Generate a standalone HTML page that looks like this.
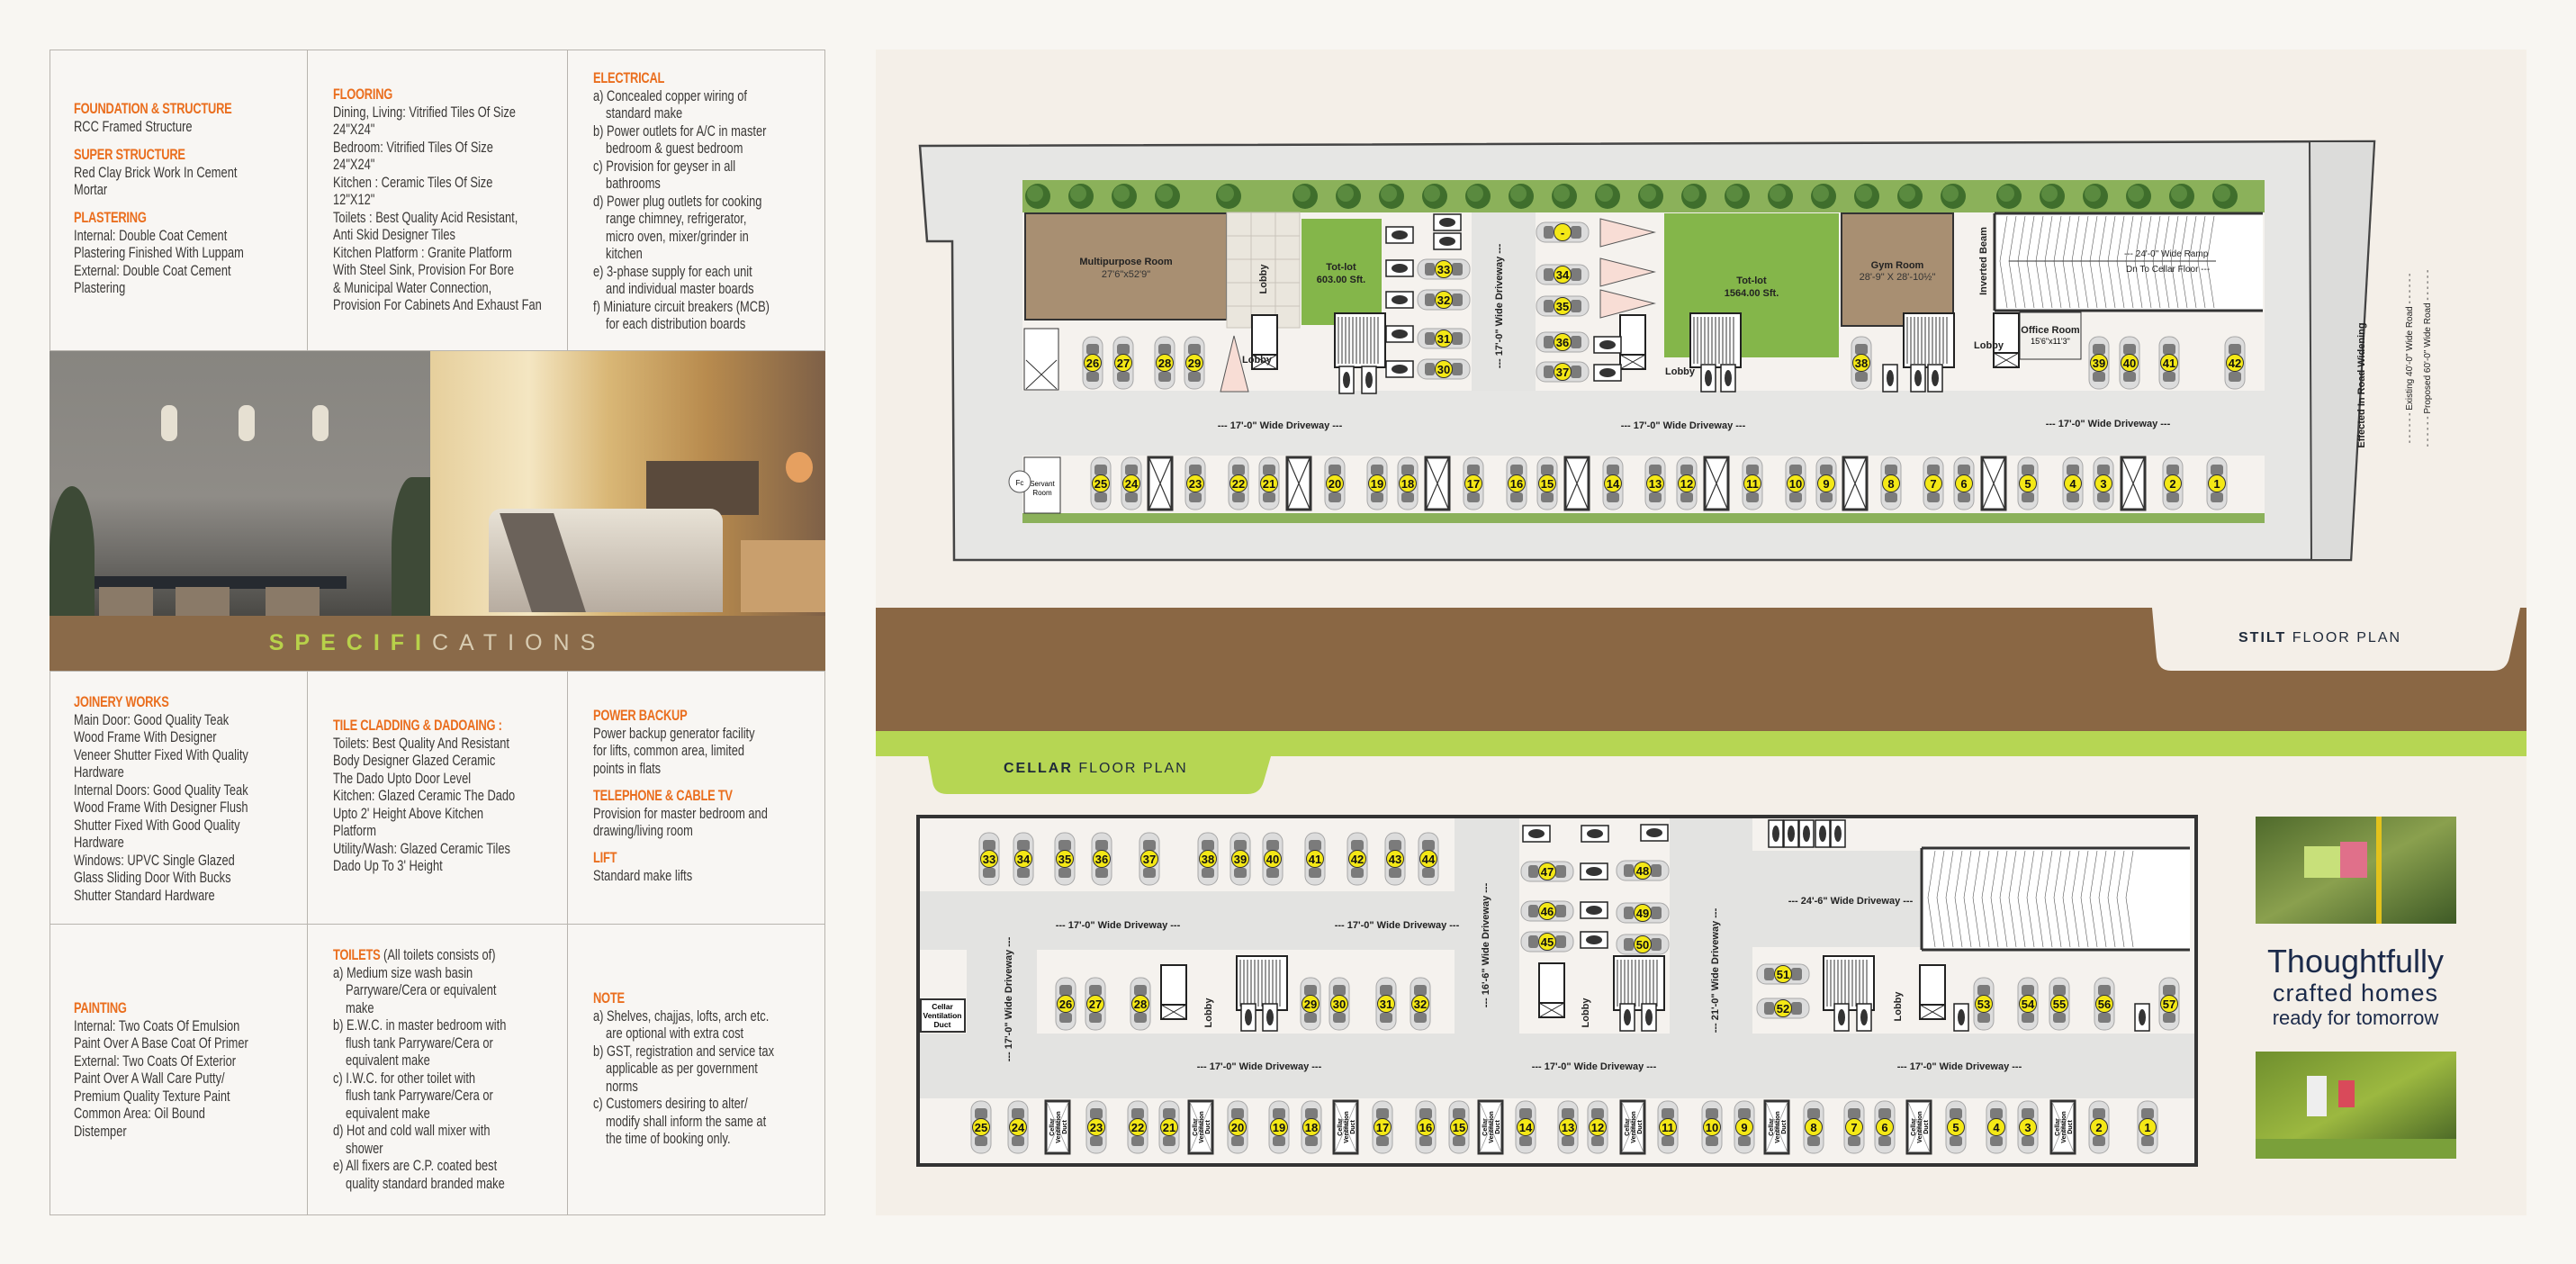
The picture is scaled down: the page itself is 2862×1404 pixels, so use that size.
<!DOCTYPE html>
<html><head><meta charset="utf-8"><style>
html,body{margin:0;padding:0}
body{width:2862px;height:1404px;position:relative;background:#f8f6f2;font-family:"Liberation Sans",sans-serif;overflow:hidden}
.abs{position:absolute}
.cell{position:absolute;background:#f8f6f3;border:1.5px solid #b8b4ae;box-sizing:border-box}
.sec{position:absolute;transform:scaleX(.78);transform-origin:0 0;font-size:16.5px;line-height:19.5px;color:#3a3836;white-space:nowrap}
.sec b{color:#ea6e1e;font-weight:bold;letter-spacing:-.3px}
.sec .i{padding-left:18px}
</style></head><body>
<div class="abs" style="left:55px;top:55px;width:862px;height:1295px;background:#f7f5f2;border:1.5px solid #b8b4ae;box-sizing:border-box"></div>
<div class="cell" style="left:55px;top:55px;width:287px;height:335px"></div>
<div class="cell" style="left:341px;top:55px;width:290px;height:335px"></div>
<div class="cell" style="left:630px;top:55px;width:287px;height:335px"></div>
<div class="cell" style="left:55px;top:745px;width:287px;height:282px"></div>
<div class="cell" style="left:341px;top:745px;width:290px;height:282px"></div>
<div class="cell" style="left:630px;top:745px;width:287px;height:282px"></div>
<div class="cell" style="left:55px;top:1026px;width:287px;height:324px"></div>
<div class="cell" style="left:341px;top:1026px;width:290px;height:324px"></div>
<div class="cell" style="left:630px;top:1026px;width:287px;height:324px"></div>

<div class="abs" style="left:55px;top:390px;width:423px;height:294px;background:linear-gradient(180deg,#878580 0%,#8f8c87 55%,#6d6b67 78%,#4a4945 100%);overflow:hidden">
 <div class="abs" style="left:50px;top:250px;width:280px;height:14px;background:#262a30"></div>
 <div class="abs" style="left:55px;top:262px;width:60px;height:100px;background:#8a7a68"></div>
 <div class="abs" style="left:140px;top:262px;width:60px;height:100px;background:#8a7a68"></div>
 <div class="abs" style="left:240px;top:262px;width:60px;height:100px;background:#8a7a68"></div>
 <div class="abs" style="left:0;top:150px;width:50px;height:150px;background:#3d4a36;border-radius:50% 50% 0 0"></div>
 <div class="abs" style="left:380px;top:140px;width:45px;height:160px;background:#3e4a37;border-radius:50% 0 0 0"></div>
 <div class="abs" style="left:124px;top:60px;width:18px;height:40px;background:#e6e0d2;border-radius:8px"></div>
 <div class="abs" style="left:210px;top:60px;width:18px;height:40px;background:#e6e0d2;border-radius:8px"></div>
 <div class="abs" style="left:292px;top:60px;width:18px;height:40px;background:#e6e0d2;border-radius:8px"></div>
</div>
<div class="abs" style="left:478px;top:390px;width:439px;height:294px;background:linear-gradient(90deg,#e6cf9c 0%,#f4e6c2 25%,#d9b776 45%,#b88b4e 70%,#7e6047 100%);overflow:hidden">
 <div class="abs" style="left:240px;top:122px;width:125px;height:60px;background:#5a4a3c"></div>
 <div class="abs" style="left:65px;top:175px;width:260px;height:115px;background:linear-gradient(180deg,#e8e2d6,#b7aca0);border-radius:14px 14px 0 0"></div>
 <div class="abs" style="left:95px;top:180px;width:60px;height:110px;background:#6b625a;transform:skewX(18deg)"></div>
 <div class="abs" style="left:395px;top:112px;width:30px;height:34px;background:#e6a060;border-radius:50%"></div>
 <div class="abs" style="left:345px;top:210px;width:94px;height:80px;background:#c99f6d"></div>
</div>

<div class="abs" style="left:55px;top:684px;width:862px;height:61px;background:#8a6a49"></div>
<div class="abs" style="left:55px;top:697px;width:862px;text-align:center;font-size:25px;letter-spacing:12px;line-height:34px"><span style="color:#b8d14a;font-weight:bold">SPECIFI</span><span style="color:#d8ccb2">CATIONS</span></div>

<div class="sec" style="left:82px;top:112px"><b>FOUNDATION &amp; STRUCTURE</b><br>RCC Framed Structure</div>
<div class="sec" style="left:82px;top:163px"><b>SUPER STRUCTURE</b><br>Red Clay Brick Work In Cement<br>Mortar</div>
<div class="sec" style="left:82px;top:233px"><b>PLASTERING</b><br>Internal: Double Coat Cement<br>Plastering Finished With Luppam<br>External: Double Coat Cement<br>Plastering</div>
<div class="sec" style="left:370px;top:96px"><b>FLOORING</b><br>Dining, Living: Vitrified Tiles Of Size<br>24"X24"<br>Bedroom: Vitrified Tiles Of Size<br>24"X24"<br>Kitchen : Ceramic Tiles Of Size<br>12"X12"<br>Toilets : Best Quality Acid Resistant,<br>Anti Skid Designer Tiles<br>Kitchen Platform : Granite Platform<br>With Steel Sink, Provision For Bore<br>&amp; Municipal Water Connection,<br>Provision For Cabinets And Exhaust Fan</div>
<div class="sec" style="left:659px;top:78px"><b>ELECTRICAL</b><br>a) Concealed copper wiring of<br><span class="i">standard make</span><br>b) Power outlets for A/C in master<br><span class="i">bedroom &amp; guest bedroom</span><br>c) Provision for geyser in all<br><span class="i">bathrooms</span><br>d) Power plug outlets for cooking<br><span class="i">range chimney, refrigerator,</span><br><span class="i">micro oven, mixer/grinder in</span><br><span class="i">kitchen</span><br>e) 3-phase supply for each unit<br><span class="i">and individual master boards</span><br>f) Miniature circuit breakers (MCB)<br><span class="i">for each distribution boards</span></div>

<div class="sec" style="left:82px;top:771px"><b>JOINERY WORKS</b><br>Main Door: Good Quality Teak<br>Wood Frame With Designer<br>Veneer Shutter Fixed With Quality<br>Hardware<br>Internal Doors: Good Quality Teak<br>Wood Frame With Designer Flush<br>Shutter Fixed With Good Quality<br>Hardware<br>Windows: UPVC Single Glazed<br>Glass Sliding Door With Bucks<br>Shutter Standard Hardware</div>
<div class="sec" style="left:370px;top:797px"><b>TILE CLADDING &amp; DADOAING :</b><br>Toilets: Best Quality And Resistant<br>Body Designer Glazed Ceramic<br>The Dado Upto Door Level<br>Kitchen: Glazed Ceramic The Dado<br>Upto 2' Height Above Kitchen<br>Platform<br>Utility/Wash: Glazed Ceramic Tiles<br>Dado Up To 3' Height</div>
<div class="sec" style="left:659px;top:786px"><b>POWER BACKUP</b><br>Power backup generator facility<br>for lifts, common area, limited<br>points in flats</div>
<div class="sec" style="left:659px;top:875px"><b>TELEPHONE &amp; CABLE TV</b><br>Provision for master bedroom and<br>drawing/living room</div>
<div class="sec" style="left:659px;top:944px"><b>LIFT</b><br>Standard make lifts</div>

<div class="sec" style="left:82px;top:1111px"><b>PAINTING</b><br>Internal: Two Coats Of Emulsion<br>Paint Over A Base Coat Of Primer<br>External: Two Coats Of Exterior<br>Paint Over A Wall Care Putty/<br>Premium Quality Texture Paint<br>Common Area: Oil Bound<br>Distemper</div>
<div class="sec" style="left:370px;top:1052px"><b>TOILETS</b> (All toilets consists of)<br>a) Medium size wash basin<br><span class="i">Parryware/Cera or equivalent</span><br><span class="i">make</span><br>b) E.W.C. in master bedroom with<br><span class="i">flush tank Parryware/Cera or</span><br><span class="i">equivalent make</span><br>c) I.W.C. for other toilet with<br><span class="i">flush tank Parryware/Cera or</span><br><span class="i">equivalent make</span><br>d) Hot and cold wall mixer with<br><span class="i">shower</span><br>e) All fixers are C.P. coated best<br><span class="i">quality standard branded make</span></div>
<div class="sec" style="left:659px;top:1100px"><b>NOTE</b><br>a) Shelves, chajjas, lofts, arch etc.<br><span class="i">are optional with extra cost</span><br>b) GST, registration and service tax<br><span class="i">applicable as per government</span><br><span class="i">norms</span><br>c) Customers desiring to alter/<br><span class="i">modify shall inform the same at</span><br><span class="i">the time of booking only.</span></div>

<div class="abs" style="left:973px;top:55px;width:1834px;height:1295px;background:#f4efe8"></div>
<svg class="abs" style="left:0;top:0" width="2862" height="1404" viewBox="0 0 2862 1404" font-family="Liberation Sans, sans-serif">
<defs>
 <g id="cv"><rect x="-11" y="-29" width="22" height="58" rx="10" fill="#dcdcdc" stroke="#a8a8a8"/><rect x="-7" y="-21" width="14" height="12" rx="3" fill="#7b7b7b"/><rect x="-7" y="10" width="14" height="11" rx="3" fill="#7b7b7b"/><circle r="9.5" fill="#f4e816" stroke="#333" stroke-width="1"/></g>
 <g id="ch"><use href="#cv" transform="rotate(90)"/></g>
 <g id="xb"><rect x="-13" y="-29" width="26" height="58" fill="#fff" stroke="#333" stroke-width="3"/><path d="M-12-28L12 28M12-28L-12 28" stroke="#333" stroke-width="1.2"/></g>
 <g id="bk"><rect x="-8" y="-15" width="16" height="30" fill="#fff" stroke="#222" stroke-width="1.5"/><ellipse rx="4" ry="9" fill="#333"/></g>
 <g id="bh"><rect x="-15" y="-9" width="30" height="18" fill="#fff" stroke="#222" stroke-width="1.5"/><ellipse rx="9" ry="5" fill="#333"/></g>
 <g id="tr"><circle r="14" fill="#3f6e2c"/><circle r="9" cx="-3" cy="-3" fill="#5a8a3f"/></g>
 <g id="lift"><rect x="-14" y="-22" width="28" height="44" fill="#fff" stroke="#222" stroke-width="2"/><rect x="-14" y="22" width="28" height="16" fill="#fff" stroke="#222" stroke-width="2"/><path d="M-14 22L14 38M14 22L-14 38" stroke="#222"/></g>
 <g id="st"><rect x="-28" y="-30" width="56" height="60" fill="#fff" stroke="#222" stroke-width="2"/><path d="M-24-26v52M-20-26v52M-16-26v52M-12-26v52M-8-26v52M-4-26v52M0-26v52M4-26v52M8-26v52M12-26v52M16-26v52M20-26v52" stroke="#333" stroke-width="1"/></g>
 <g id="vd"><rect x="-13" y="-29" width="26" height="58" fill="#fff" stroke="#333" stroke-width="3"/><path d="M-12-28L12 28M12-28L-12 28" stroke="#999" stroke-width="0.8"/><g font-size="7" font-weight="bold" text-anchor="middle" transform="rotate(-90)"><text x="0" y="-4">Cellar</text><text x="0" y="3">Ventilation</text><text x="0" y="10">Duct</text></g></g>
</defs>
<style>.n{font-size:13px;font-weight:bold;text-anchor:middle;fill:#111}.lb{font-size:11px;font-weight:bold;fill:#222}.c{text-anchor:middle}</style>

<!-- STILT -->
<polygon points="1022,162 2638,157 2612,622 1060,622 1058,268 1030,268" fill="#e6e6e4" stroke="#444" stroke-width="2.5"/>
<polygon points="2566,157 2638,157 2612,622 2568,622" fill="#dcdcda" stroke="#444" stroke-width="2"/>
<rect x="1136" y="200" width="1380" height="36" fill="#8bb15a"/>
<rect x="1136" y="236" width="1380" height="198" fill="#f5f2ee"/>
<rect x="1136" y="506" width="1380" height="64" fill="#f5f2ee"/>
<rect x="1136" y="570" width="1380" height="11" fill="#8bb15a"/>
<g>
<use href="#tr" x="1153" y="218"/><use href="#tr" x="1201" y="218"/><use href="#tr" x="1249" y="218"/><use href="#tr" x="1297" y="218"/><use href="#tr" x="1365" y="218"/><use href="#tr" x="1450" y="218"/><use href="#tr" x="1498" y="218"/><use href="#tr" x="1546" y="218"/><use href="#tr" x="1594" y="218"/><use href="#tr" x="1642" y="218"/><use href="#tr" x="1690" y="218"/><use href="#tr" x="1738" y="218"/><use href="#tr" x="1786" y="218"/><use href="#tr" x="1834" y="218"/><use href="#tr" x="1882" y="218"/><use href="#tr" x="1930" y="218"/><use href="#tr" x="1978" y="218"/><use href="#tr" x="2026" y="218"/><use href="#tr" x="2074" y="218"/><use href="#tr" x="2122" y="218"/><use href="#tr" x="2170" y="218"/><use href="#tr" x="2232" y="218"/><use href="#tr" x="2280" y="218"/><use href="#tr" x="2328" y="218"/><use href="#tr" x="2376" y="218"/><use href="#tr" x="2424" y="218"/><use href="#tr" x="2472" y="218"/>
</g>
<rect x="1635" y="236" width="71" height="198" fill="#e4e4e2"/>
<rect x="1139" y="237" width="224" height="118" fill="#a88f72" stroke="#333" stroke-width="2"/>
<text x="1251" y="294" class="lb c" font-size="12">Multipurpose Room</text><text x="1251" y="308" class="c" font-size="11" fill="#333">27'6"x52'9"</text>
<rect x="1363" y="236" width="81" height="128" fill="#eae6dd" stroke="#c9c4ba"/>
<path d="M1363 262h81M1363 288h81M1363 314h81M1363 340h81M1390 236v128M1417 236v128" stroke="#c9c4ba"/>
<text x="1407" y="310" class="lb c" transform="rotate(-90 1407 310)">Lobby</text>
<rect x="1446" y="243" width="89" height="118" fill="#84b64a"/>
<text x="1490" y="300" class="lb c">Tot-lot</text><text x="1490" y="314" class="lb c">603.00 Sft.</text>
<rect x="1138" y="365" width="38" height="68" fill="#fff" stroke="#333"/><path d="M1140 400L1174 432M1174 400L1140 432" stroke="#333"/>
<polygon points="1356,435 1371,373 1387,435" fill="#f8ddd5" stroke="#555"/>
<polygon points="1778,243 1838,258 1778,274" fill="#f8ddd5" stroke="#555"/>
<polygon points="1778,287 1838,302 1778,318" fill="#f8ddd5" stroke="#555"/>
<polygon points="1778,322 1838,337 1778,353" fill="#f8ddd5" stroke="#555"/>
<rect x="1849" y="237" width="194" height="160" fill="#84b64a"/>
<text x="1946" y="315" class="lb c">Tot-lot</text><text x="1946" y="329" class="lb c">1564.00 Sft.</text>
<rect x="2046" y="237" width="124" height="125" fill="#a88f72" stroke="#333" stroke-width="2"/>
<text x="2108" y="298" class="lb c" font-size="12">Gym Room</text><text x="2108" y="311" class="c" font-size="11" fill="#333">28'-9" X 28'-10½"</text>
<rect x="2216" y="237" width="298" height="108" fill="#fff"/>
<path d="M2216 237v108M2216 237h298M2216 345h298" stroke="#333" stroke-width="3"/>
<g stroke="#555" stroke-width="0.6" fill="none"><path d="M2230 240l-8 50 8 52M2240 240l-8 50 8 52M2250 240l-8 50 8 52M2260 240l-8 50 8 52M2270 240l-8 50 8 52M2280 240l-8 50 8 52M2290 240l-8 50 8 52M2300 240l-8 50 8 52M2310 240l-8 50 8 52M2320 240l-8 50 8 52M2330 240l-8 50 8 52M2340 240l-8 50 8 52M2350 240l-8 50 8 52M2360 240l-8 50 8 52M2370 240l-8 50 8 52M2380 240l-8 50 8 52M2390 240l-8 50 8 52M2400 240l-8 50 8 52M2410 240l-8 50 8 52M2420 240l-8 50 8 52M2430 240l-8 50 8 52M2440 240l-8 50 8 52M2450 240l-8 50 8 52M2460 240l-8 50 8 52"/></g>
<path d="M2232 290h230" stroke="#333" stroke-width="1"/>
<text x="2360" y="285" font-size="10" fill="#222">--- 24'-0" Wide Ramp</text><text x="2362" y="302" font-size="10" fill="#222">Dn To Cellar Floor ---</text>
<text x="2207" y="290" class="lb c" transform="rotate(-90 2207 290)">Inverted Beam</text>
<rect x="2244" y="347" width="68" height="52" fill="#f2f0ec" stroke="#333"/>
<text x="2278" y="370" class="lb c" font-size="10">Office Room</text><text x="2278" y="382" class="c" font-size="9">15'6"x11'3"</text>
<use href="#lift" x="1405" y="372"/><use href="#lift" x="1814" y="372"/><use href="#lift" x="2229" y="370"/>
<use href="#st" x="1511" y="378"/><use href="#st" x="1906" y="378"/><use href="#st" x="2143" y="378"/>
<text x="1380" y="403" class="lb">Lobby</text><text x="1850" y="416" class="lb">Lobby</text><text x="2193" y="387" class="lb">Lobby</text>
<text x="1422" y="476" class="lb c">--- 17'-0" Wide Driveway ---</text>
<text x="1870" y="476" class="lb c">--- 17'-0" Wide Driveway ---</text>
<text x="2342" y="474" class="lb c" font-size="10">--- 17'-0" Wide Driveway ---</text>
<text x="1669" y="340" class="lb c" transform="rotate(-90 1669 340)">--- 17'-0" Wide Driveway ---</text>
<text x="2627" y="428" class="lb c" font-size="10" transform="rotate(-90 2627 428)">Effected In Road Widening</text>
<text x="2680" y="398" font-size="10" fill="#222" class="c" transform="rotate(-90 2680 398)">- - - - - - Existing 40'-0" Wide Road - - - - - -</text>
<text x="2700" y="398" font-size="10" fill="#222" class="c" transform="rotate(-90 2700 398)">- - - - - - Proposed 60'-0" Wide Road - - - - - -</text>
<rect x="1138" y="508" width="40" height="62" fill="#fff" stroke="#333"/>
<text x="1158" y="540" class="c" font-size="8">Servant</text><text x="1158" y="550" class="c" font-size="8">Room</text>
<circle cx="1133" cy="535" r="12" fill="#fff" stroke="#555"/><text x="1133" y="539" class="c" font-size="8">Fc</text>
<use href="#bh" x="1555" y="261"/><use href="#bh" x="1555" y="298"/><use href="#bh" x="1555" y="333"/><use href="#bh" x="1555" y="371"/><use href="#bh" x="1555" y="410"/><use href="#bh" x="1608" y="247"/><use href="#bh" x="1608" y="268"/><use href="#bh" x="1786" y="383"/><use href="#bh" x="1786" y="414"/>
<use href="#bk" x="1496" y="422"/><use href="#bk" x="1521" y="422"/><use href="#bk" x="1898" y="420"/><use href="#bk" x="1920" y="420"/><use href="#bk" x="2100" y="420"/><use href="#bk" x="2131" y="420"/><use href="#bk" x="2150" y="420"/>
<g>
<use href="#cv" x="1214" y="403"/><text x="1214" y="408" class="n">26</text>
<use href="#cv" x="1248" y="403"/><text x="1248" y="408" class="n">27</text>
<use href="#cv" x="1294" y="403"/><text x="1294" y="408" class="n">28</text>
<use href="#cv" x="1327" y="403"/><text x="1327" y="408" class="n">29</text>
<use href="#ch" x="1604" y="299"/><text x="1604" y="304" class="n">33</text>
<use href="#ch" x="1604" y="333"/><text x="1604" y="338" class="n">32</text>
<use href="#ch" x="1604" y="376"/><text x="1604" y="381" class="n">31</text>
<use href="#ch" x="1604" y="410"/><text x="1604" y="415" class="n">30</text>
<use href="#ch" x="1736" y="258"/><text x="1736" y="263" class="n">-</text>
<use href="#ch" x="1736" y="305"/><text x="1736" y="310" class="n">34</text>
<use href="#ch" x="1736" y="340"/><text x="1736" y="345" class="n">35</text>
<use href="#ch" x="1736" y="380"/><text x="1736" y="385" class="n">36</text>
<use href="#ch" x="1736" y="413"/><text x="1736" y="418" class="n">37</text>
<use href="#cv" x="2068" y="403"/><text x="2068" y="408" class="n">38</text>
<use href="#cv" x="2332" y="403"/><text x="2332" y="408" class="n">39</text>
<use href="#cv" x="2366" y="403"/><text x="2366" y="408" class="n">40</text>
<use href="#cv" x="2410" y="403"/><text x="2410" y="408" class="n">41</text>
<use href="#cv" x="2483" y="403"/><text x="2483" y="408" class="n">42</text>
<use href="#cv" x="1223" y="537"/><text x="1223" y="542" class="n">25</text>
<use href="#cv" x="1257" y="537"/><text x="1257" y="542" class="n">24</text>
<use href="#xb" x="1289" y="537"/>
<use href="#cv" x="1328" y="537"/><text x="1328" y="542" class="n">23</text>
<use href="#cv" x="1376" y="537"/><text x="1376" y="542" class="n">22</text>
<use href="#cv" x="1410" y="537"/><text x="1410" y="542" class="n">21</text>
<use href="#xb" x="1443" y="537"/>
<use href="#cv" x="1483" y="537"/><text x="1483" y="542" class="n">20</text>
<use href="#cv" x="1530" y="537"/><text x="1530" y="542" class="n">19</text>
<use href="#cv" x="1564" y="537"/><text x="1564" y="542" class="n">18</text>
<use href="#xb" x="1597" y="537"/>
<use href="#cv" x="1637" y="537"/><text x="1637" y="542" class="n">17</text>
<use href="#cv" x="1685" y="537"/><text x="1685" y="542" class="n">16</text>
<use href="#cv" x="1719" y="537"/><text x="1719" y="542" class="n">15</text>
<use href="#xb" x="1752" y="537"/>
<use href="#cv" x="1792" y="537"/><text x="1792" y="542" class="n">14</text>
<use href="#cv" x="1839" y="537"/><text x="1839" y="542" class="n">13</text>
<use href="#cv" x="1874" y="537"/><text x="1874" y="542" class="n">12</text>
<use href="#xb" x="1907" y="537"/>
<use href="#cv" x="1947" y="537"/><text x="1947" y="542" class="n">11</text>
<use href="#cv" x="1995" y="537"/><text x="1995" y="542" class="n">10</text>
<use href="#cv" x="2029" y="537"/><text x="2029" y="542" class="n">9</text>
<use href="#xb" x="2061" y="537"/>
<use href="#cv" x="2101" y="537"/><text x="2101" y="542" class="n">8</text>
<use href="#cv" x="2148" y="537"/><text x="2148" y="542" class="n">7</text>
<use href="#cv" x="2182" y="537"/><text x="2182" y="542" class="n">6</text>
<use href="#xb" x="2215" y="537"/>
<use href="#cv" x="2253" y="537"/><text x="2253" y="542" class="n">5</text>
<use href="#cv" x="2303" y="537"/><text x="2303" y="542" class="n">4</text>
<use href="#cv" x="2337" y="537"/><text x="2337" y="542" class="n">3</text>
<use href="#xb" x="2370" y="537"/>
<use href="#cv" x="2414" y="537"/><text x="2414" y="542" class="n">2</text>
<use href="#cv" x="2463" y="537"/><text x="2463" y="542" class="n">1</text>
</g>

<rect x="973" y="675" width="1834" height="138" fill="#8a6744"/>
<path d="M2391 675 H2800 L2788 730 Q2785 745 2770 745 H2412 Q2398 745 2396 730 Z" fill="#f4efe8"/>
<text x="2487" y="713" font-size="16" letter-spacing="2" fill="#1f2a3a"><tspan font-weight="bold">STILT</tspan> FLOOR PLAN</text>
<rect x="973" y="812" width="1834" height="28" fill="#b6d653"/>
<path d="M1031 840 H1412 L1404 868 Q1400 882 1386 882 H1052 Q1038 882 1036 868 Z" fill="#b6d653"/>
<text x="1115" y="858" font-size="16" letter-spacing="2" fill="#1f2a3a"><tspan font-weight="bold">CELLAR</tspan> FLOOR PLAN</text>

<!-- CELLAR -->
<rect x="1020" y="907" width="1420" height="387" fill="#f5f2ee" stroke="#333" stroke-width="4"/>
<rect x="1022" y="990" width="594" height="65" fill="#e3e3e1"/>
<rect x="1074" y="990" width="78" height="230" fill="#e3e3e1"/>
<rect x="1616" y="909" width="72" height="311" fill="#e3e3e1"/>
<rect x="1855" y="909" width="92" height="311" fill="#e3e3e1"/>
<rect x="1947" y="945" width="188" height="107" fill="#e3e3e1"/>
<rect x="1022" y="1148" width="1416" height="72" fill="#e3e3e1"/>
<rect x="2135" y="942" width="298" height="113" fill="#fff"/>
<path d="M2135 942h298M2135 1055h298M2135 942v113" stroke="#333" stroke-width="3"/>
<g stroke="#555" stroke-width="0.6" fill="none"><path d="M2150 945l-8 52 8 55M2160 945l-8 52 8 55M2170 945l-8 52 8 55M2180 945l-8 52 8 55M2190 945l-8 52 8 55M2200 945l-8 52 8 55M2210 945l-8 52 8 55M2220 945l-8 52 8 55M2230 945l-8 52 8 55M2240 945l-8 52 8 55M2250 945l-8 52 8 55M2260 945l-8 52 8 55M2270 945l-8 52 8 55M2280 945l-8 52 8 55M2290 945l-8 52 8 55M2300 945l-8 52 8 55M2310 945l-8 52 8 55M2320 945l-8 52 8 55M2330 945l-8 52 8 55M2340 945l-8 52 8 55M2350 945l-8 52 8 55M2360 945l-8 52 8 55M2370 945l-8 52 8 55"/></g>
<rect x="1023" y="1110" width="49" height="36" fill="#fff" stroke="#333" stroke-width="2"/>
<text x="1047" y="1121" class="c" font-size="8.5" font-weight="bold">Cellar</text><text x="1047" y="1131" class="c" font-size="8.5" font-weight="bold">Ventilation</text><text x="1047" y="1141" class="c" font-size="8.5" font-weight="bold">Duct</text>
<text x="1242" y="1031" class="lb c" font-size="10">--- 17'-0" Wide Driveway ---</text>
<text x="1552" y="1031" class="lb c" font-size="10">--- 17'-0" Wide Driveway ---</text>
<text x="2056" y="1004" class="lb c" font-size="10">--- 24'-6" Wide Driveway ---</text>
<text x="1399" y="1188" class="lb c" font-size="10">--- 17'-0" Wide Driveway ---</text>
<text x="1771" y="1188" class="lb c" font-size="10">--- 17'-0" Wide Driveway ---</text>
<text x="2177" y="1188" class="lb c" font-size="10">--- 17'-0" Wide Driveway ---</text>
<text x="1124" y="1110" class="lb c" transform="rotate(-90 1124 1110)">--- 17'-0" Wide Driveway ---</text>
<text x="1654" y="1050" class="lb c" transform="rotate(-90 1654 1050)">--- 16'-6" Wide Driveway ---</text>
<text x="1909" y="1078" class="lb c" transform="rotate(-90 1909 1078)">--- 21'-0" Wide Driveway ---</text>
<use href="#lift" x="1304" y="1094"/><use href="#lift" x="1724" y="1092"/><use href="#lift" x="2147" y="1094"/>
<use href="#st" x="1402" y="1092"/><use href="#st" x="1821" y="1092"/><use href="#st" x="2054" y="1092"/>
<text x="1346" y="1125" class="lb c" transform="rotate(-90 1346 1125)">Lobby</text>
<text x="1765" y="1125" class="lb c" transform="rotate(-90 1765 1125)">Lobby</text>
<text x="2112" y="1118" class="lb c" transform="rotate(-90 2112 1118)">Lobby</text>
<use href="#bk" x="1387" y="1130"/><use href="#bk" x="1411" y="1130"/><use href="#bk" x="1808" y="1130"/><use href="#bk" x="1832" y="1130"/><use href="#bk" x="2046" y="1130"/><use href="#bk" x="2071" y="1130"/><use href="#bk" x="2179" y="1130"/><use href="#bk" x="2380" y="1130"/>
<use href="#bk" x="1973" y="926"/><use href="#bk" x="1990" y="926"/><use href="#bk" x="2007" y="926"/><use href="#bk" x="2025" y="926"/><use href="#bk" x="2042" y="926"/>
<use href="#bh" x="1707" y="926"/><use href="#bh" x="1772" y="926"/><use href="#bh" x="1838" y="925"/><use href="#bh" x="1771" y="968"/><use href="#bh" x="1771" y="1011"/><use href="#bh" x="1771" y="1044"/>
<g>
<use href="#cv" x="1099" y="954"/><text x="1099" y="959" class="n">33</text>
<use href="#cv" x="1137" y="954"/><text x="1137" y="959" class="n">34</text>
<use href="#cv" x="1183" y="954"/><text x="1183" y="959" class="n">35</text>
<use href="#cv" x="1224" y="954"/><text x="1224" y="959" class="n">36</text>
<use href="#cv" x="1277" y="954"/><text x="1277" y="959" class="n">37</text>
<use href="#cv" x="1342" y="954"/><text x="1342" y="959" class="n">38</text>
<use href="#cv" x="1378" y="954"/><text x="1378" y="959" class="n">39</text>
<use href="#cv" x="1414" y="954"/><text x="1414" y="959" class="n">40</text>
<use href="#cv" x="1461" y="954"/><text x="1461" y="959" class="n">41</text>
<use href="#cv" x="1508" y="954"/><text x="1508" y="959" class="n">42</text>
<use href="#cv" x="1550" y="954"/><text x="1550" y="959" class="n">43</text>
<use href="#cv" x="1587" y="954"/><text x="1587" y="959" class="n">44</text>
<use href="#ch" x="1719" y="968"/><text x="1719" y="973" class="n">47</text>
<use href="#ch" x="1825" y="967"/><text x="1825" y="972" class="n">48</text>
<use href="#ch" x="1719" y="1012"/><text x="1719" y="1017" class="n">46</text>
<use href="#ch" x="1825" y="1014"/><text x="1825" y="1019" class="n">49</text>
<use href="#ch" x="1719" y="1046"/><text x="1719" y="1051" class="n">45</text>
<use href="#ch" x="1825" y="1049"/><text x="1825" y="1054" class="n">50</text>
<use href="#cv" x="1184" y="1115"/><text x="1184" y="1120" class="n">26</text>
<use href="#cv" x="1217" y="1115"/><text x="1217" y="1120" class="n">27</text>
<use href="#cv" x="1267" y="1115"/><text x="1267" y="1120" class="n">28</text>
<use href="#cv" x="1456" y="1115"/><text x="1456" y="1120" class="n">29</text>
<use href="#cv" x="1488" y="1115"/><text x="1488" y="1120" class="n">30</text>
<use href="#cv" x="1540" y="1115"/><text x="1540" y="1120" class="n">31</text>
<use href="#cv" x="1578" y="1115"/><text x="1578" y="1120" class="n">32</text>
<use href="#ch" x="1981" y="1082"/><text x="1981" y="1087" class="n">51</text>
<use href="#ch" x="1981" y="1120"/><text x="1981" y="1125" class="n">52</text>
<use href="#cv" x="2204" y="1115"/><text x="2204" y="1120" class="n">53</text>
<use href="#cv" x="2253" y="1115"/><text x="2253" y="1120" class="n">54</text>
<use href="#cv" x="2288" y="1115"/><text x="2288" y="1120" class="n">55</text>
<use href="#cv" x="2338" y="1115"/><text x="2338" y="1120" class="n">56</text>
<use href="#cv" x="2410" y="1115"/><text x="2410" y="1120" class="n">57</text>
<use href="#cv" x="1090" y="1252"/><text x="1090" y="1257" class="n">25</text>
<use href="#cv" x="1131" y="1252"/><text x="1131" y="1257" class="n">24</text>
<use href="#vd" x="1175" y="1252"/>
<use href="#cv" x="1218" y="1252"/><text x="1218" y="1257" class="n">23</text>
<use href="#cv" x="1264" y="1252"/><text x="1264" y="1257" class="n">22</text>
<use href="#cv" x="1299" y="1252"/><text x="1299" y="1257" class="n">21</text>
<use href="#vd" x="1334" y="1252"/>
<use href="#cv" x="1375" y="1252"/><text x="1375" y="1257" class="n">20</text>
<use href="#cv" x="1421" y="1252"/><text x="1421" y="1257" class="n">19</text>
<use href="#cv" x="1457" y="1252"/><text x="1457" y="1257" class="n">18</text>
<use href="#vd" x="1495" y="1252"/>
<use href="#cv" x="1536" y="1252"/><text x="1536" y="1257" class="n">17</text>
<use href="#cv" x="1584" y="1252"/><text x="1584" y="1257" class="n">16</text>
<use href="#cv" x="1621" y="1252"/><text x="1621" y="1257" class="n">15</text>
<use href="#vd" x="1656" y="1252"/>
<use href="#cv" x="1695" y="1252"/><text x="1695" y="1257" class="n">14</text>
<use href="#cv" x="1742" y="1252"/><text x="1742" y="1257" class="n">13</text>
<use href="#cv" x="1775" y="1252"/><text x="1775" y="1257" class="n">12</text>
<use href="#vd" x="1814" y="1252"/>
<use href="#cv" x="1853" y="1252"/><text x="1853" y="1257" class="n">11</text>
<use href="#cv" x="1902" y="1252"/><text x="1902" y="1257" class="n">10</text>
<use href="#cv" x="1938" y="1252"/><text x="1938" y="1257" class="n">9</text>
<use href="#vd" x="1974" y="1252"/>
<use href="#cv" x="2015" y="1252"/><text x="2015" y="1257" class="n">8</text>
<use href="#cv" x="2060" y="1252"/><text x="2060" y="1257" class="n">7</text>
<use href="#cv" x="2094" y="1252"/><text x="2094" y="1257" class="n">6</text>
<use href="#vd" x="2132" y="1252"/>
<use href="#cv" x="2173" y="1252"/><text x="2173" y="1257" class="n">5</text>
<use href="#cv" x="2218" y="1252"/><text x="2218" y="1257" class="n">4</text>
<use href="#cv" x="2253" y="1252"/><text x="2253" y="1257" class="n">3</text>
<use href="#vd" x="2292" y="1252"/>
<use href="#cv" x="2332" y="1252"/><text x="2332" y="1257" class="n">2</text>
<use href="#cv" x="2386" y="1252"/><text x="2386" y="1257" class="n">1</text>
</g>

<defs>
 <linearGradient id="p1" x1="0" y1="0" x2="1" y2="1"><stop offset="0" stop-color="#4f6a2c"/><stop offset=".5" stop-color="#8aa04e"/><stop offset="1" stop-color="#3e5a26"/></linearGradient>
 <linearGradient id="p2" x1="0" y1="0" x2="1" y2="1"><stop offset="0" stop-color="#6f8f2e"/><stop offset=".5" stop-color="#9cb840"/><stop offset="1" stop-color="#3c5a22"/></linearGradient>
</defs>
<rect x="2506" y="907" width="223" height="119" fill="url(#p1)"/>
<rect x="2560" y="940" width="40" height="35" fill="#c8e07a"/><rect x="2600" y="935" width="30" height="40" fill="#e0708a"/><rect x="2640" y="907" width="6" height="119" fill="#e3c21c"/>
<text x="2617" y="1080" font-size="36" fill="#1b2a4a" text-anchor="middle">Thoughtfully</text>
<text x="2617" y="1112" font-size="27" fill="#1b2a4a" text-anchor="middle" letter-spacing="1">crafted  homes</text>
<text x="2617" y="1138" font-size="22" fill="#1b2a4a" text-anchor="middle">ready for tomorrow</text>
<rect x="2506" y="1168" width="223" height="119" fill="url(#p2)"/>
<rect x="2563" y="1195" width="22" height="45" fill="#eee"/><rect x="2598" y="1200" width="18" height="30" fill="#d94a5a"/><rect x="2506" y="1265" width="223" height="22" fill="#7aa03a"/>
</svg>
</body></html>
